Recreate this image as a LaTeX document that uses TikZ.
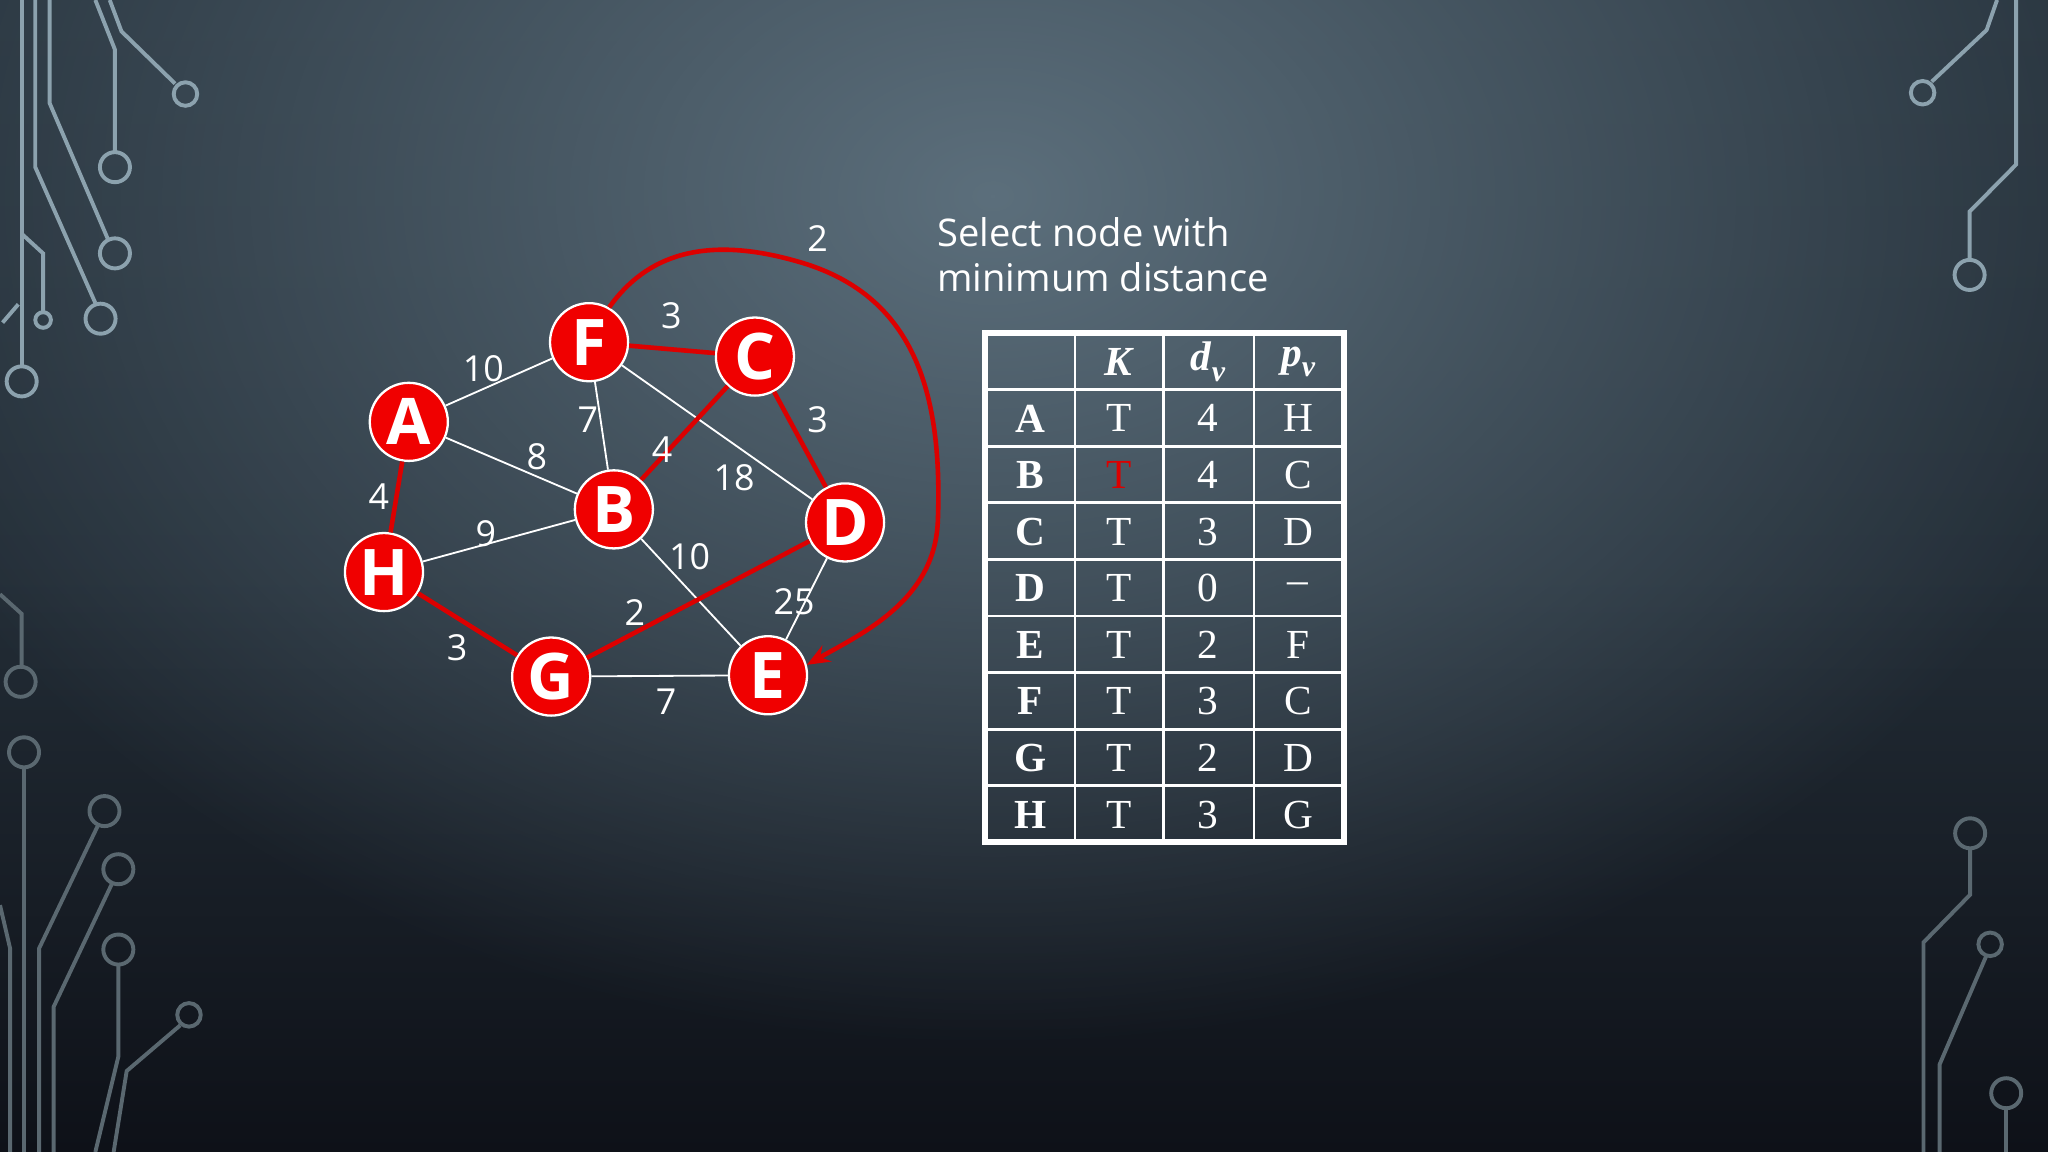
\documentclass[tikz,border=0pt]{standalone}
\usepackage{fontspec}
\setmainfont{Liberation Serif}
\newfontfamily\osans{Open Sans}
\usetikzlibrary{arrows.meta,fadings}
\definecolor{bgdark}{RGB}{40,52,62}
\definecolor{bgbot}{RGB}{14,17,24}
\definecolor{bglight}{RGB}{92,111,124}
\definecolor{deco}{RGB}{140,162,174}
\definecolor{decob}{RGB}{90,104,112}
\definecolor{nred}{RGB}{240,0,0}
\definecolor{ered}{RGB}{220,0,0}
\tikzfading[name=glowfade, inner color=transparent!0, outer color=transparent!100]
\newcommand{\tsub}[2]{\textbf{\textit{#1}}\raisebox{-2.2pt}{\fontsize{6.5}{6.5}\selectfont\textbf{\textit{#2}}}}
\tikzset{
  gnode/.style={circle, fill=nred, draw=white, line width=0.5pt, minimum size=17pt, inner sep=0pt, text=white, font=\osans\bfseries\fontsize{14}{14}\selectfont},
  wedge/.style={draw=white, line width=0.4pt},
  redge/.style={draw=ered, line width=1pt},
  elab/.style={text=white, font=\osans\fontsize{7.8}{7.8}\selectfont, inner sep=0pt},
  dline/.style={draw=deco, line width=0.85pt},
  dlineb/.style={draw=decob, line width=0.85pt},
  tcell/.style={text=white, font=\fontsize{9}{9}\selectfont, inner sep=0pt}
}
\begin{document}
\begin{tikzpicture}[x=0.01cm,y=-0.01cm]
\useasboundingbox (0,0) rectangle (1568,882);
\shade[top color=bgdark, bottom color=bgbot, middle color=bgdark!80!bgbot] (0,0) rectangle (1568,882);
\begin{scope}
\clip (0,0) rectangle (1568,882);
\fill[bglight, path fading=glowfade] (760,150) ellipse (900 and 650);
\end{scope}
% decorations top-left
\draw[dline] (16.6,0) -- (16.6,281); \draw[dline] (16.6,292) circle (3.27pt);
\draw[dline] (16.6,179) -- (33,194) -- (33,240); \draw[dline] (33,245) circle (1.7pt);
\draw[dline] (14,233) -- (2,247);
\draw[dline] (27,0) -- (27,128) -- (73,232); \draw[dline] (77,244) circle (3.27pt);
\draw[dline] (38,0) -- (38,79) -- (83,184); \draw[dline] (88,194) circle (3.27pt);
\draw[dline] (73,0) -- (88,38) -- (88,117); \draw[dline] (88,128) circle (3.27pt);
\draw[dline] (84,0) -- (93,24) -- (134,64); \draw[dline] (142,72) circle (2.56pt);
% bottom-left
\draw[dlineb] (0,455) -- (16.6,470) -- (16.6,511); \draw[dlineb] (15.8,522) circle (3.27pt);
\draw[dlineb] (18.4,576) circle (3.27pt); \draw[dlineb] (18.4,587) -- (18.4,882);
\draw[dlineb] (80,621) circle (3.27pt); \draw[dlineb] (75,632) -- (30,726) -- (30,882);
\draw[dlineb] (90.6,665.5) circle (3.27pt); \draw[dlineb] (86,676) -- (41,771) -- (41,882);
\draw[dlineb] (90.6,727) circle (3.27pt); \draw[dlineb] (90.6,738) -- (90.6,809) -- (73,882);
\draw[dlineb] (144.7,777) circle (2.56pt); \draw[dlineb] (138,785) -- (97,820) -- (87,882);
\draw[dlineb] (0,693) -- (7.7,726) -- (7.7,882);
% top-right
\draw[dline] (1529,0) -- (1521,23) -- (1479,62.5); \draw[dline] (1472,71) circle (2.56pt);
\draw[dline] (1543.6,0) -- (1543.6,126) -- (1508,162) -- (1508,199); \draw[dline] (1508,210.5) circle (3.27pt);
% bottom-right
\draw[dlineb] (1508.4,638) circle (3.27pt); \draw[dlineb] (1508.4,649) -- (1508.4,685) -- (1472.7,721.5) -- (1472.7,882);
\draw[dlineb] (1523.7,723) circle (2.56pt); \draw[dlineb] (1520.7,732) -- (1485,815) -- (1485,882);
\draw[dlineb] (1536,837) circle (3.27pt); \draw[dlineb] (1536,848.4) -- (1536,882);
% graph nodes
\node[gnode] (F) at (451,262) {F};
\node[gnode] (C) at (578,273) {C};
\node[gnode] (A) at (313,323) {A};
\node[gnode] (B) at (470,390) {B};
\node[gnode] (D) at (647,400) {D};
\node[gnode] (H) at (294,438) {H};
\node[gnode] (G) at (422,518) {G};
\node[gnode] (E) at (588,517) {E};
\draw[wedge] (A) -- (F);
\draw[wedge] (A) -- (B);
\draw[wedge] (F) -- (B);
\draw[wedge] (F) -- (D);
\draw[wedge] (H) -- (B);
\draw[wedge] (B) -- (E);
\draw[wedge] (D) -- (E);
\draw[wedge] (G) -- (E);
\draw[redge] (F) -- (C);
\draw[redge] (C) -- (D);
\draw[redge] (C) -- (B);
\draw[redge] (A) -- (H);
\draw[redge] (H) -- (G);
\draw[redge] (G) -- (D);
\draw[redge, -{Stealth[length=5pt,width=4pt]}] (F.60) .. controls (495,195) and (540,180) .. (610,200) .. controls (700,225) and (722,300) .. (718,400) .. controls (715,460) and (660,485) .. (E.15);
% edge labels
\node[elab] (l1) at (514,242) {3};
\node[elab] (l2) at (626,321) {3};
\node[elab] (l3) at (507,344) {4};
\node[elab] (l4) at (290,380) {4};
\node[elab] (l5) at (350,496) {3};
\node[elab] (l6) at (486,469) {2};
\node[elab] (l7) at (626,183) {2};
\node[elab] (l8) at (370,282) {10};
\node[elab] (l9) at (411,350) {8};
\node[elab] (l10) at (450,321) {7};
\node[elab] (l11) at (562,366) {18};
\node[elab] (l12) at (372,409) {9};
\node[elab] (l13) at (528,426) {10};
\node[elab] (l14) at (608,461) {25};
\node[elab] (l15) at (510,537) {7};
% title
\node[anchor=west, text=white, font=\osans\fontsize{8.3}{10}\selectfont, align=left, inner sep=0pt] (title) at (717,195) {Select node with\\minimum distance};
% table
\draw[white, line width=1.3pt] (754,255) rectangle (1029,645);
\foreach \x in {823,891,960} \draw[white, line width=0.6pt] (\x,255) -- (\x,645);
\foreach \i in {1,...,8} \draw[white, line width=0.6pt] (754,255+43.33*\i) -- (1029,255+43.33*\i);
\node[tcell] (hK) at (857,277) {\textbf{\textit{K}}};
\node[tcell] (hd) at (925,277) {\tsub{d}{v}};
\node[tcell] (hp) at (994,277) {\tsub{p}{v}};
\foreach \r/\k/\d/\p [count=\i] in {A/T/4/H, B/T/4/C, C/T/3/D, D/T/0/--, E/T/2/F, F/T/3/C, G/T/2/D, H/T/3/G} {
  \node[tcell] at (789,277+43.33*\i) {\textbf{\r}};
  \node[tcell] at (925,277+43.33*\i) {\d};
  \node[tcell] at (994,277+43.33*\i) {\p};
  \ifnum\i=2 \node[tcell, text=ered] at (857,277+43.33*\i) {\k};
  \else \node[tcell] at (857,277+43.33*\i) {\k}; \fi
}
\end{tikzpicture}
\end{document}
